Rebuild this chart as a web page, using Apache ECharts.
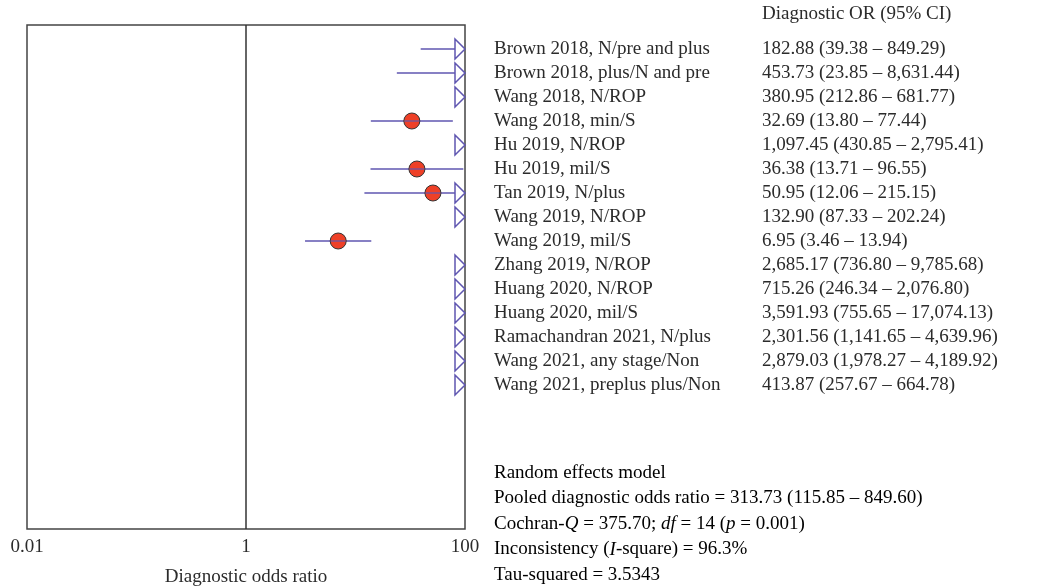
<!DOCTYPE html>
<html>
<head>
<meta charset="utf-8">
<script src="https://cdn.jsdelivr.net/npm/echarts@6/dist/echarts.min.js"></script>
<style>
  html, body { margin: 0; padding: 0; background: #fff; }
  #container { width: 1039px; height: 588px; }
</style>
</head>
<body>
<div id="container"></div>
<script>
var dom = document.getElementById("container");
var myChart = echarts.init(dom);

var studies = [
    'Brown 2018, N/pre and plus',
    'Brown 2018, plus/N and pre',
    'Wang 2018, N/ROP',
    'Wang 2018, min/S',
    'Hu 2019, N/ROP',
    'Hu 2019, mil/S',
    'Tan 2019, N/plus',
    'Wang 2019, N/ROP',
    'Wang 2019, mil/S',
    'Zhang 2019, N/ROP',
    'Huang 2020, N/ROP',
    'Huang 2020, mil/S',
    'Ramachandran 2021, N/plus',
    'Wang 2021, any stage/Non',
    'Wang 2021, preplus plus/Non'
];
var oddsRatio = [182.88, 453.73, 380.95, 32.69, 1097.45, 36.38, 50.95, 132.90, 6.95, 2685.17, 715.26, 3591.93, 2301.56, 2879.03, 413.87];
var ciLower = [39.38, 23.85, 212.86, 13.80, 430.85, 13.71, 12.06, 87.33, 3.46, 736.80, 246.34, 755.65, 1141.65, 1978.27, 257.67];
var ciUpper = [849.29, 8631.44, 681.77, 77.44, 2795.41, 96.55, 215.15, 202.24, 13.94, 9785.68, 2076.80, 17074.13, 4639.96, 4189.92, 664.78];
var tickLabels = ['0.01', '1', '100'];
var summaryLines = [
    'Random effects model',
    'Pooled diagnostic odds ratio = 313.73 (115.85 \u2013 849.60)',
    ['Cochran-', 'Q', ' = 375.70; ', 'df', ' = 14 (', 'p', ' = 0.001)'],
    ['Inconsistency (', 'I', '-square) = 96.3%'],
    'Tau-squared = 3.5343'
];

var xMin = 0.01, xMax = 100;
var serif = "'Liberation Serif', 'DejaVu Serif', serif";
var fs = 19;
var textColor = '#2b2b2b';

function fmt(v) {
    return v.toLocaleString('en-US', { minimumFractionDigits: 2, maximumFractionDigits: 2 });
}

var rows = studies.map(function (s, i) {
    return [i + 1, oddsRatio[i], ciLower[i], ciUpper[i]];
});

// summary text, italic parts use rich text
function richLine(parts) {
    if (typeof parts === 'string') return '{n|' + parts + '}';
    return parts.map(function (p, i) { return i % 2 ? '{i|' + p + '}' : '{n|' + p + '}'; }).join('');
}

var summaryGraphic = summaryLines.map(function (l, i) {
    return {
        type: 'text',
        x: 494,
        y: 473 + i * 25.5,
        style: {
            text: richLine(l),
            verticalAlign: 'middle',
            rich: {
                n: { fontFamily: serif, fontSize: fs, color: textColor },
                i: { fontFamily: serif, fontSize: fs, fontStyle: 'italic', color: textColor }
            }
        }
    };
});

option = {
    animation: false,
    grid: {
        left: 27,
        right: 574,
        top: 25,
        bottom: 59,
        outerBoundsMode: 'none',
        containLabel: false,
        show: true,
        borderColor: '#444',
        borderWidth: 1.5
    },
    xAxis: {
        type: 'log',
        logBase: 10,
        min: xMin,
        max: xMax,
        name: 'Diagnostic odds ratio',
        nameLocation: 'middle',
        nameGap: 39,
        nameTextStyle: { fontFamily: serif, fontSize: fs, color: textColor },
        axisLine: { show: false },
        axisTick: { show: false },
        splitLine: { show: false },
        axisLabel: {
            fontFamily: serif,
            fontSize: fs,
            color: textColor,
            margin: 9,
            showMinLabel: true,
            showMaxLabel: true,
            formatter: function (v) {
                var s = String(+v.toPrecision(6));
                return tickLabels.indexOf(s) >= 0 ? s : '';
            }
        }
    },
    yAxis: {
        type: 'value',
        inverse: true,
        min: 0,
        max: 21,
        show: false
    },
    graphic: [{
        type: 'text',
        x: 762,
        y: 14,
        style: { text: 'Diagnostic OR (95% CI)', font: fs + 'px ' + serif, fill: textColor, verticalAlign: 'middle' }
    }].concat(summaryGraphic),
    series: [
        {
            type: 'line',
            data: [],
            markLine: {
                silent: true,
                symbol: 'none',
                label: { show: false },
                lineStyle: { color: '#333', width: 1.5, type: 'solid' },
                data: [{ xAxis: 1 }]
            }
        },
        {
            type: 'custom',
            clip: false,
            data: rows,
            encode: { x: 1, y: 0 },
            renderItem: function (params, api) {
                var i = params.dataIndex;
                var row = api.value(0);
                var or = api.value(1), lo = api.value(2), hi = api.value(3);
                var pLo = api.coord([Math.max(lo, xMin), row]);
                var pHi = api.coord([Math.min(hi, xMax), row]);
                var right = api.coord([xMax, row]);
                var y = pLo[1];
                var children = [];
                var lineColor = '#5f56b0';
                if (lo < xMax) {
                    children.push({
                        type: 'line',
                        z2: 1,
                        shape: { x1: pLo[0], y1: y, x2: hi > xMax ? right[0] - 10 : pHi[0], y2: y },
                        style: { stroke: lineColor, lineWidth: 1.5 }
                    });
                }
                if (or <= xMax) {
                    var c = api.coord([or, row]);
                    children.push({
                        type: 'circle',
                        z2: 2,
                        shape: { cx: c[0], cy: y, r: 8 },
                        style: { fill: '#ee4027', stroke: '#333', lineWidth: 1 }
                    });
                    children.push({
                        type: 'line',
                        z2: 3,
                        shape: { x1: c[0] - 7.5, y1: y, x2: c[0] + 7.5, y2: y },
                        style: { stroke: lineColor, lineWidth: 1.2 }
                    });
                }
                if (hi > xMax) {
                    children.push({
                        type: 'polygon',
                        z2: 4,
                        shape: { points: [[right[0] - 10, y - 10], [right[0], y], [right[0] - 10, y + 10]] },
                        style: { fill: '#fff', stroke: lineColor, lineWidth: 1.5 }
                    });
                }
                children.push({
                    type: 'text',
                    style: {
                        x: right[0] + 29, y: y, text: studies[i],
                        font: fs + 'px ' + serif, fill: textColor, verticalAlign: 'middle'
                    }
                });
                children.push({
                    type: 'text',
                    style: {
                        x: 762, y: y,
                        text: fmt(or) + ' (' + fmt(lo) + ' \u2013 ' + fmt(hi) + ')',
                        font: fs + 'px ' + serif, fill: textColor, verticalAlign: 'middle'
                    }
                });
                return { type: 'group', children: children };
            }
        }
    ]
};

if (option && typeof option === "object") {
    myChart.setOption(option, true);
}
</script>
</body>
</html>
